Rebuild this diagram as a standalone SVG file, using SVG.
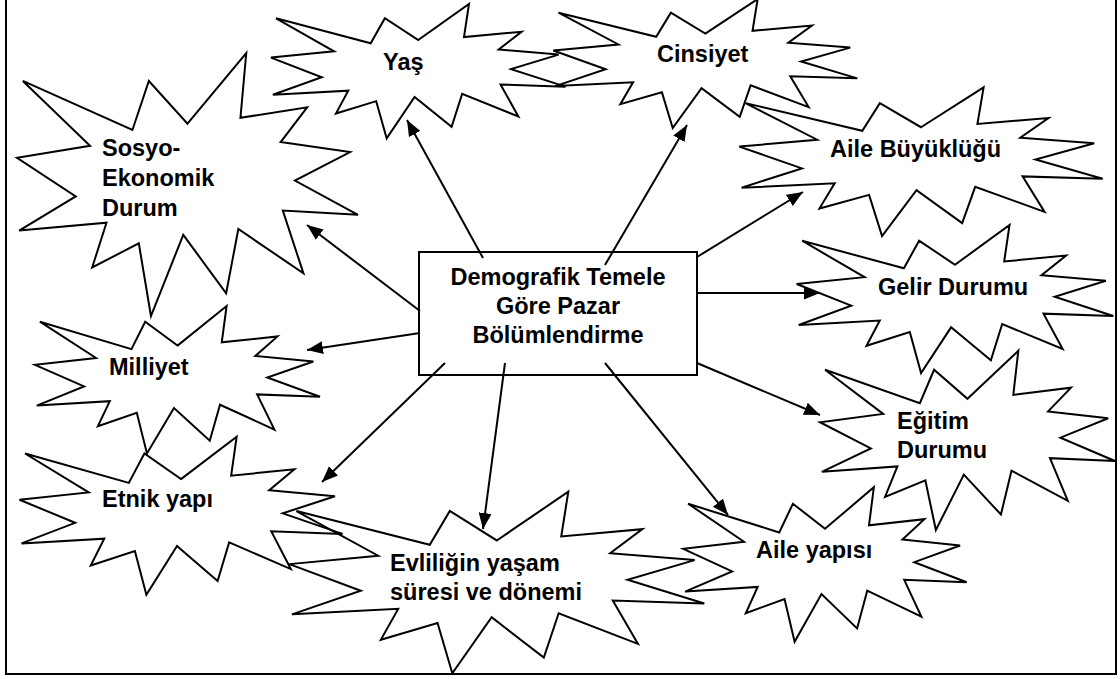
<svg xmlns="http://www.w3.org/2000/svg" xmlns:xlink="http://www.w3.org/1999/xlink" width="1120" height="679" viewBox="0 0 1120 679">
  <style>
    .frame { fill: none; stroke: #000; stroke-width: 2; }
    .seal { fill: none; stroke: #000; stroke-width: 2; stroke-linejoin: miter; }
    .box { fill: #fff; stroke: #000; stroke-width: 2; }
    .lbl { font-family: "Liberation Sans", Arial, sans-serif; font-weight: bold; font-size: 23.5px; fill: #000; }
    .mid { text-anchor: middle; }
    .conn line { stroke: #000; stroke-width: 2; marker-end: url(#head); }
  </style>
  <defs>
    <!-- explosion outline in a 100 x 100 box -->
    <path id="seal" class="seal" vector-effect="non-scaling-stroke"
      d="M50,26.85 L67.23,0 L65.53,24.65 L85.09,20.63 L77.32,33.87 L97.67,37.67 L81.51,48.5 L100,61.53 L77.95,59.92 L84,83.77 L64.91,66.93 L61.33,91.38 L48.76,69.14 L39.28,100 L35.72,72.35 L22.05,81.56 L26.24,64.52 L0.63,67.53 L17.23,54.51 L0,39.88 L21.42,35.26 L1.71,10.63 L33.85,29.26 L38.67,10.63 Z"/>
    <marker id="head" markerUnits="userSpaceOnUse" markerWidth="17" markerHeight="14" refX="16" refY="6.5" orient="auto">
      <path d="M0,0 L16,6.5 L0,13 Z" fill="#000"/>
    </marker>
  </defs>

  <rect class="frame" x="6" y="-5" width="1110" height="679"/>

  <g id="sosyo-ekonomik">
    <use xlink:href="#seal" transform="translate(17 53) scale(3.41 2.63)"/>
    <text class="lbl" x="102" y="156">Sosyo-</text>
    <text class="lbl" x="102" y="186">Ekonomik</text>
    <text class="lbl" x="102" y="216">Durum</text>
  </g>
  <g id="yas">
    <use xlink:href="#seal" transform="translate(271 4) scale(2.945 1.343)"/>
    <text class="lbl" x="383" y="70">Yaş</text>
  </g>
  <g id="cinsiyet">
    <use xlink:href="#seal" transform="translate(553.3 -1) scale(3.04 1.29)"/>
    <text class="lbl" x="657" y="62">Cinsiyet</text>
  </g>
  <g id="aile-buyuklugu">
    <use xlink:href="#seal" transform="translate(739.3 87.3) scale(3.634 1.487)"/>
    <text class="lbl" x="830" y="157">Aile Büyüklüğü</text>
  </g>
  <g id="gelir">
    <use xlink:href="#seal" transform="translate(796.7 225) scale(3.166 1.48)"/>
    <text class="lbl" x="878" y="295">Gelir Durumu</text>
  </g>
  <g id="egitim">
    <use xlink:href="#seal" transform="translate(820 350.7) scale(2.95 1.793)"/>
    <text class="lbl" x="897" y="429">Eğitim</text>
    <text class="lbl" x="897" y="458">Durumu</text>
  </g>
  <g id="aile-yapisi">
    <use xlink:href="#seal" transform="translate(683.3 487.3) scale(2.834 1.544)"/>
    <text class="lbl" x="756" y="558">Aile yapısı</text>
  </g>
  <g id="evlilik">
    <use xlink:href="#seal" transform="translate(289.3 491.7) scale(4.15 1.816)"/>
    <text class="lbl" x="390" y="571">Evliliğin yaşam</text>
    <text class="lbl" x="390" y="600">süresi ve dönemi</text>
  </g>
  <g id="etnik">
    <use xlink:href="#seal" transform="translate(19.5 436.7) scale(3.23 1.58)"/>
    <text class="lbl" x="102" y="507">Etnik yapı</text>
  </g>
  <g id="milliyet">
    <use xlink:href="#seal" transform="translate(35 306) scale(2.85 1.475)"/>
    <text class="lbl" x="109" y="375">Milliyet</text>
  </g>

  <g id="center">
    <rect class="box" x="419" y="252" width="278" height="123"/>
    <text class="lbl mid" x="558" y="285">Demografik Temele</text>
    <text class="lbl mid" x="558" y="314">Göre Pazar</text>
    <text class="lbl mid" x="558" y="343">Bölümlendirme</text>
  </g>

  <g id="connectors" class="conn">
    <line x1="483" y1="258" x2="407" y2="120"/>
    <line x1="605" y1="265" x2="687" y2="125"/>
    <line x1="697" y1="257" x2="803" y2="192"/>
    <line x1="697" y1="293" x2="820" y2="293"/>
    <line x1="697" y1="363" x2="820" y2="415"/>
    <line x1="605" y1="363" x2="728" y2="515"/>
    <line x1="505" y1="363" x2="483" y2="529"/>
    <line x1="445" y1="363" x2="322" y2="482"/>
    <line x1="420" y1="333" x2="307" y2="350"/>
    <line x1="420" y1="311" x2="307" y2="225"/>
  </g>
</svg>
